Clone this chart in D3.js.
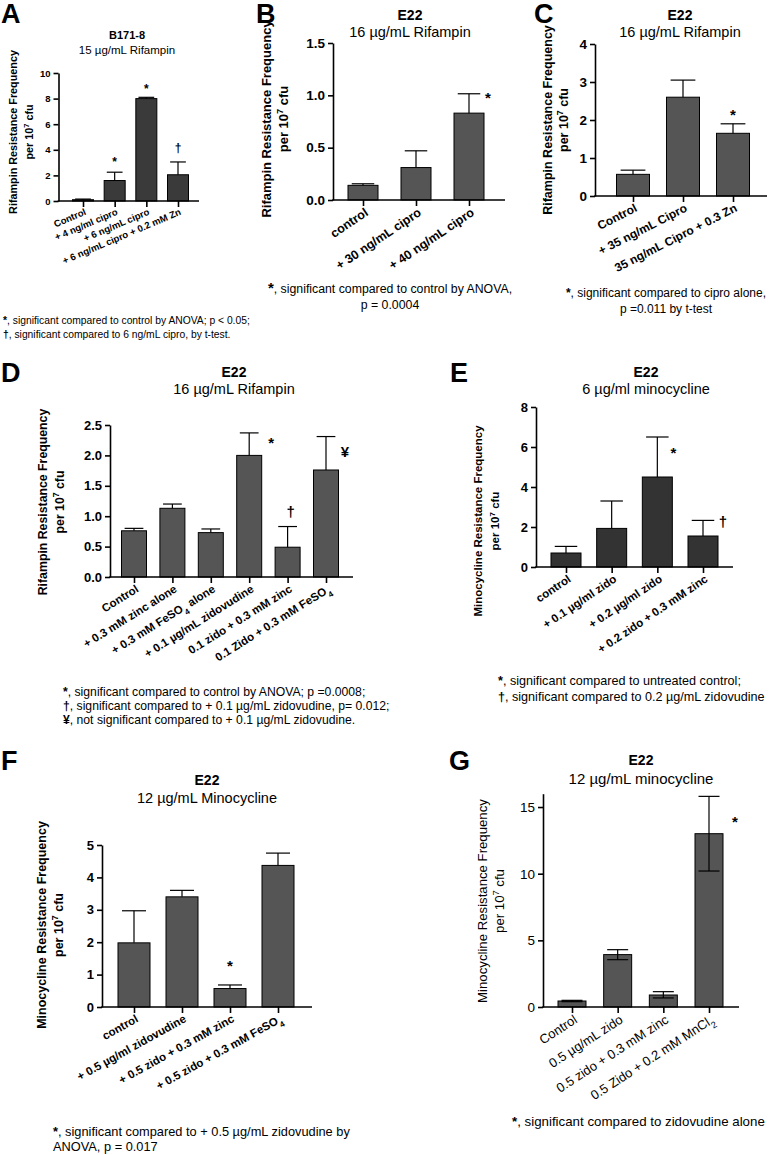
<!DOCTYPE html>
<html>
<head>
<meta charset="utf-8">
<script src="https://cdn.jsdelivr.net/npm/d3@7"></script>
<style>
body { margin: 0; background: #fff; }
svg { display: block; }
text { font-family: "Liberation Sans", Arial, sans-serif; fill: #000; }
</style>
</head>
<body>
<svg width="771" height="1155"></svg>
<script>
// A - B171-8, 15 ug/mL rifampin
var aCats = ['Control', '+ 4 ng/ml cipro', '+ 6 ng/mL cipro', '+ 6 ng/mL cipro + 0.2 mM Zn'];
var aMeans = [0.1, 1.6, 8.0, 2.05];
var aHigh = [0.15, 2.25, 8.1, 3.05];
var aTicks = [0, 2, 4, 6, 8, 10];
var aMarks = ['', '*', '*', '†'];

// B - E22, 16 ug/mL rifampin
var bCats = ['control', '+ 30 ng/mL cipro', '+ 40 ng/mL cipro'];
var bMeans = [0.14, 0.31, 0.83];
var bHigh = [0.155, 0.47, 1.015];
var bTicks = [0, 0.5, 1.0, 1.5];
var bMarks = ['', '', '*'];

// C - E22, 16 ug/mL rifampin
var cCats = ['Control', '+ 35 ng/mL Cipro', '35 ng/mL Cipro + 0.3 Zn'];
var cMeans = [0.57, 2.6, 1.65];
var cHigh = [0.68, 3.05, 1.9];
var cTicks = [0, 1, 2, 3, 4];
var cMarks = ['', '', '*'];

// D - E22, 16 ug/mL rifampin
var dCats = ['Control', '+ 0.3 mM zinc alone', '+ 0.3 mM FeSO_4 alone', '+ 0.1 µg/mL zidovudine',
  '0.1 zido + 0.3 mM zinc', '0.1 Zido + 0.3 mM FeSO_4'];
var dMeans = [0.76, 1.13, 0.73, 2.0, 0.49, 1.76];
var dHigh = [0.80, 1.20, 0.79, 2.37, 0.83, 2.31];
var dTicks = [0, 0.5, 1.0, 1.5, 2.0, 2.5];
var dMarks = ['', '', '', '*', '†', '¥'];

// E - E22, 6 ug/ml minocycline
var eCats = ['control', '+ 0.1 µg/ml zido', '+ 0.2 µg/ml zido', '+ 0.2 zido + 0.3 mM zinc'];
var eMeans = [0.7, 1.93, 4.5, 1.55];
var eHigh = [1.03, 3.3, 6.5, 2.33];
var eTicks = [0, 2, 4, 6, 8];
var eMarks = ['', '', '*', '†'];

// F - E22, 12 ug/mL minocycline
var fCats = ['control', '+ 0.5 µg/ml zidovudine', '+ 0.5 zido + 0.3 mM zinc', '+ 0.5 zido + 0.3 mM FeSO_4'];
var fMeans = [1.98, 3.4, 0.57, 4.37];
var fHigh = [2.97, 3.6, 0.68, 4.75];
var fTicks = [0, 1, 2, 3, 4, 5];
var fMarks = ['', '', '*', ''];

// G - E22, 12 ug/mL minocycline (error bars both ways)
var gCats = ['Control', '0.5 µg/mL zido', '0.5 zido + 0.3 mM zinc', '0.5 Zido + 0.2 mM MnCl_2'];
var gMeans = [0.45, 3.93, 0.9, 13.0];
var gLow = [0.4, 3.55, 0.68, 10.2];
var gHigh = [0.5, 4.3, 1.15, 15.8];
var gTicks = [0, 5, 10, 15];
var gMarks = ['', '', '', '*'];

var svg = d3.select('svg');

// text with _x subscripts and ^x superscripts
function rich(t, s) {
  s.split(/([_^].)/).forEach(function (p) {
    if (!p) return;
    if (p[0] === '_' || p[0] === '^') {
      t.append('tspan')
        .attr('baseline-shift', p[0] === '_' ? 'sub' : 'super')
        .style('font-size', '70%')
        .text(p.slice(1));
    } else {
      t.append('tspan').text(p);
    }
  });
}

function panel(o) {
  var g = svg.append('g');
  var wt = o.bold ? 'bold' : 'normal';

  g.append('text')
    .attr('x', o.lx).attr('y', o.ly)
    .style('font-size', '27px').style('font-weight', 'bold')
    .text(o.letter);

  g.append('text')
    .attr('x', o.tx).attr('y', o.ty1)
    .attr('text-anchor', 'middle')
    .style('font-size', o.tfs + 'px').style('font-weight', 'bold')
    .text(o.title);
  g.append('text')
    .attr('x', o.tx).attr('y', o.ty2)
    .attr('text-anchor', 'middle')
    .style('font-size', o.sfs + 'px')
    .text(o.sub);

  var y = d3.scaleLinear().domain([0, o.ymax]).range([o.yb, o.yt]);
  var x = d3.scalePoint().domain(o.cats).range([o.c0, o.cN]);

  var ya = g.append('g')
    .attr('transform', 'translate(' + o.x0 + ',0)')
    .call(d3.axisLeft(y).tickValues(o.ticks).tickSize(5).tickSizeOuter(0).tickFormat(d3.format(o.fmt)));
  ya.select('.domain').attr('stroke-width', 1.6);
  ya.selectAll('.tick line').attr('stroke-width', 1.6);
  ya.selectAll('.tick text')
    .attr('x', -8)
    .style('font-size', o.kfs + 'px').style('font-weight', wt)
    .style('font-family', '"Liberation Sans", Arial, sans-serif');

  // bars
  g.selectAll('rect.bar')
    .data(o.cats)
    .join('rect')
    .attr('x', function (d) { return x(d) - o.bw / 2; })
    .attr('y', function (d, i) { return y(o.means[i]); })
    .attr('width', o.bw)
    .attr('height', function (d, i) { return o.yb - y(o.means[i]); })
    .attr('fill', o.fill)
    .attr('stroke', '#000')
    .attr('stroke-width', 1);

  // error bars
  var cw = o.bw * 0.75;
  o.cats.forEach(function (c, i) {
    var cx = x(c);
    var lo = o.low ? o.low[i] : o.means[i];
    g.append('line')
      .attr('x1', cx).attr('x2', cx)
      .attr('y1', y(lo)).attr('y2', y(o.high[i]))
      .attr('stroke', '#000').attr('stroke-width', 1.2);
    g.append('line')
      .attr('x1', cx - cw / 2).attr('x2', cx + cw / 2)
      .attr('y1', y(o.high[i])).attr('y2', y(o.high[i]))
      .attr('stroke', '#000').attr('stroke-width', 1.2);
    if (o.low) {
      g.append('line')
        .attr('x1', cx - cw / 2).attr('x2', cx + cw / 2)
        .attr('y1', y(lo)).attr('y2', y(lo))
        .attr('stroke', '#000').attr('stroke-width', 1.2);
    }
  });

  // x axis
  var xa = g.append('g')
    .attr('transform', 'translate(0,' + o.yb + ')')
    .call(d3.axisBottom(x).tickSize(6).tickSizeOuter(0).tickFormat(''));
  xa.select('.domain').remove();
  xa.selectAll('.tick line').attr('stroke-width', 1.6);
  g.append('line')
    .attr('x1', o.x0 - 0.8).attr('x2', o.x1)
    .attr('y1', o.yb).attr('y2', o.yb)
    .attr('stroke', '#000').attr('stroke-width', 1.6);

  var ang = o.ang * Math.PI / 180;
  var cap = 0.72 * o.xfs;
  o.cats.forEach(function (c) {
    var px = x(c) + Math.sin(ang) * cap + 1;
    var py = o.yb + 7 + Math.cos(ang) * cap;
    var t = g.append('text')
      .attr('transform', 'translate(' + px + ',' + py + ') rotate(' + (-o.ang) + ')')
      .attr('text-anchor', 'end')
      .style('font-size', o.xfs + 'px').style('font-weight', wt);
    rich(t, c);
  });

  // y label
  var yl = g.append('text')
    .attr('transform', 'translate(' + o.ylx + ',' + o.ylc + ') rotate(-90)')
    .attr('text-anchor', 'middle')
    .style('font-size', o.yfs + 'px').style('font-weight', wt);
  yl.append('tspan').attr('x', 0).attr('dy', 0).text(o.ylab);
  var l2 = yl.append('tspan').attr('x', 0).attr('dy', o.yld);
  rich(l2, 'per 10^7 cfu');

  // significance marks
  o.marks.forEach(function (m, i) {
    if (!m) return;
    var off = o.moff[i];
    var cy = y(o.high[i]) + off[1];
    var sh = m === '*' ? 0.55 : 0.32;
    g.append('text')
      .attr('x', x(o.cats[i]) + off[0])
      .attr('y', cy + sh * o.mfs)
      .attr('text-anchor', 'middle')
      .style('font-size', o.mfs + 'px').style('font-weight', 'bold')
      .text(m);
  });

  // footnotes, leading symbol in bold
  o.notes.forEach(function (n, i) {
    var t = g.append('text')
      .attr('x', o.nx).attr('y', o.ny + i * o.nd)
      .attr('text-anchor', o.nanchor)
      .style('font-size', o.nfs + 'px');
    var m = n.match(/^([*†¥]),/);
    if (m) {
      t.append('tspan').style('font-weight', 'bold').style('font-size', (o.nsym || o.nfs) + 'px').text(m[1]);
      t.append('tspan').text(n.slice(1));
    } else {
      t.text(n);
    }
  });
}

panel({
  letter: 'A', lx: 1, ly: 23,
  title: 'B171-8', sub: '15 µg/mL Rifampin', tx: 127, ty1: 39, ty2: 54, tfs: 11, sfs: 11.5,
  cats: aCats, means: aMeans, high: aHigh, ticks: aTicks, marks: aMarks, fmt: 'd',
  moff: [null, [0, -13], [0, -11], [0, -14]], mfs: 12,
  ymax: 10, yb: 201, yt: 73, x0: 58.5, x1: 199, c0: 83, cN: 178, bw: 21,
  fill: '#3a3a3a', bold: true, kfs: 9.5, xfs: 9.5, ang: 23,
  ylab: 'Rifampin Resistance Frequency', ylx: 17, ylc: 132, yld: 16, yfs: 10.8,
  notes: ['*, significant compared to control by ANOVA; p < 0.05;', '†, significant compared to 6 ng/mL cipro, by t-test.'],
  nx: 3, ny: 324, nd: 14, nanchor: 'start', nfs: 10.3
});

panel({
  letter: 'B', lx: 256, ly: 23,
  title: 'E22', sub: '16 µg/mL Rifampin', tx: 410, ty1: 20, ty2: 37, tfs: 14, sfs: 14.5,
  cats: bCats, means: bMeans, high: bHigh, ticks: bTicks, marks: bMarks, fmt: '.1f',
  moff: [null, null, [19, 1]], mfs: 15,
  ymax: 1.5, yb: 200, yt: 43, x0: 333, x1: 505, c0: 363, cN: 469, bw: 30,
  fill: '#555', bold: true, kfs: 13.5, xfs: 12.5, ang: 34,
  ylab: 'Rifampin Resistance Frequency', ylx: 271, ylc: 119, yld: 17, yfs: 13,
  notes: ['*, significant compared to control by ANOVA,', 'p = 0.0004'],
  nx: 390, ny: 293, nd: 16, nanchor: 'middle', nfs: 12.3, nsym: 15
});

panel({
  letter: 'C', lx: 534, ly: 23,
  title: 'E22', sub: '16 µg/mL Rifampin', tx: 680, ty1: 20, ty2: 37, tfs: 14, sfs: 14.5,
  cats: cCats, means: cMeans, high: cHigh, ticks: cTicks, marks: cMarks, fmt: 'd',
  moff: [null, null, [0, -12]], mfs: 15,
  ymax: 4, yb: 196, yt: 44, x0: 595, x1: 767, c0: 633, cN: 733, bw: 33,
  fill: '#555', bold: true, kfs: 13.5, xfs: 12, ang: 27,
  ylab: 'Rifampin Resistance Frequency', ylx: 552, ylc: 120, yld: 16, yfs: 12.5,
  notes: ['*, significant compared to cipro alone,', 'p =0.011 by t-test'],
  nx: 666, ny: 297, nd: 16, nanchor: 'middle', nfs: 12
});

panel({
  letter: 'D', lx: 1, ly: 382,
  title: 'E22', sub: '16 µg/mL Rifampin', tx: 234, ty1: 377, ty2: 394, tfs: 14, sfs: 14.5,
  cats: dCats, means: dMeans, high: dHigh, ticks: dTicks, marks: dMarks, fmt: '.1f',
  moff: [null, null, null, [22, 7], [3, -14], [19, 16]], mfs: 15,
  ymax: 2.5, yb: 577, yt: 425, x0: 110, x1: 353, c0: 134, cN: 326, bw: 25,
  fill: '#555', bold: true, kfs: 13, xfs: 11.5, ang: 32,
  ylab: 'Rifampin Resistance Frequency', ylx: 47, ylc: 502, yld: 17, yfs: 12.3,
  notes: ['*, significant compared to control by ANOVA;  p =0.0008;',
    '†, significant compared to + 0.1 µg/mL zidovudine, p= 0.012;',
    '¥, not significant compared to + 0.1 µg/mL zidovudine.'],
  nx: 63, ny: 696, nd: 14, nanchor: 'start', nfs: 12.2
});

panel({
  letter: 'E', lx: 450, ly: 382,
  title: 'E22', sub: '6 µg/ml minocycline', tx: 646, ty1: 377, ty2: 394, tfs: 14, sfs: 14.5,
  cats: eCats, means: eMeans, high: eHigh, ticks: eTicks, marks: eMarks, fmt: 'd',
  moff: [null, null, [16, 13], [20, 2]], mfs: 15,
  ymax: 8, yb: 567, yt: 407, x0: 536, x1: 733, c0: 566, cN: 703, bw: 30,
  fill: '#333', bold: true, kfs: 13, xfs: 11.5, ang: 34,
  ylab: 'Minocycline Resistance Frequency', ylx: 482, ylc: 521, yld: 17, yfs: 11.5,
  notes: ['*, significant compared to untreated control;', '†, significant compared to 0.2 µg/mL zidovudine'],
  nx: 498, ny: 685, nd: 16, nanchor: 'start', nfs: 12.6
});

panel({
  letter: 'F', lx: 1, ly: 770,
  title: 'E22', sub: '12 µg/mL Minocycline', tx: 207, ty1: 785, ty2: 803, tfs: 14, sfs: 14.5,
  cats: fCats, means: fMeans, high: fHigh, ticks: fTicks, marks: fMarks, fmt: 'd',
  moff: [null, null, [0, -22], null], mfs: 15,
  ymax: 5, yb: 1007, yt: 845, x0: 102, x1: 312, c0: 134, cN: 278, bw: 32,
  fill: '#555', bold: true, kfs: 13, xfs: 11.5, ang: 29,
  ylab: 'Minocycline Resistance Frequency', ylx: 46, ylc: 925, yld: 17, yfs: 12.5,
  notes: ['*, significant compared to + 0.5 µg/mL zidovudine by', 'ANOVA, p = 0.017'],
  nx: 53, ny: 1136, nd: 15, nanchor: 'start', nfs: 12.8
});

panel({
  letter: 'G', lx: 449, ly: 770,
  title: 'E22', sub: '12 µg/mL minocycline', tx: 641, ty1: 765, ty2: 784, tfs: 14, sfs: 15,
  cats: gCats, means: gMeans, low: gLow, high: gHigh, ticks: gTicks, marks: gMarks, fmt: 'd',
  moff: [null, null, null, [26, 22]], mfs: 15,
  ymax: 16, yb: 1007, yt: 793.7, x0: 543, x1: 739, c0: 572, cN: 709, bw: 28,
  fill: '#555', bold: false, kfs: 13.5, xfs: 13, ang: 33,
  ylab: 'Minocycline Resistance Frequency', ylx: 487, ylc: 901, yld: 17, yfs: 13.2,
  notes: ['*, significant compared to zidovudine alone'],
  nx: 512, ny: 1126, nd: 15, nanchor: 'start', nfs: 13.3
});
</script>
</body>
</html>
